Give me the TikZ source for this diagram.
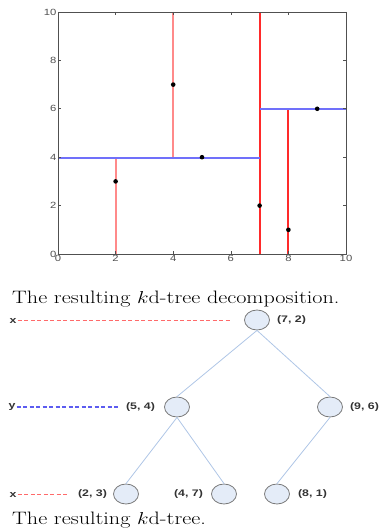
\documentclass[tikz,border=0pt]{standalone}
\usepackage{graphicx}
\usepackage{fontspec}
\newfontfamily\plotfont{Liberation Sans}
\usetikzlibrary{positioning,shapes.geometric}
\definecolor{axisgray}{HTML}{505050}
\definecolor{splitred}{HTML}{FF2A2A}
\definecolor{splitpink}{HTML}{FF8A8A}
\definecolor{splitblue}{HTML}{7070FA}
\definecolor{dashblue}{HTML}{5C5CF0}
\definecolor{edgeblue}{HTML}{AFC6E6}
\definecolor{nodefill}{HTML}{E4ECF8}
\definecolor{nodeline}{HTML}{7A7A7A}
\newcommand{\stretchtxt}[2][1.3]{\scalebox{#1}[1]{#2}}

\begin{document}
\begin{tikzpicture}[x=1pt, y=-1pt,
  tick/.style={font=\plotfont\fontsize{9}{10}\selectfont, text=axisgray, inner sep=1.5pt},
  caption/.style={font=\fontsize{18}{20}\selectfont, anchor=base west, inner sep=0pt},
  knode/.style={ellipse, draw=nodeline, fill=nodefill, line width=0.8pt,
                minimum width=25pt, minimum height=20pt, inner sep=0pt},
  klabel/.style={font=\plotfont\bfseries\fontsize{9.5}{10}\selectfont, text=black!80, inner sep=1pt},
  axlabel/.style={font=\plotfont\bfseries\fontsize{9.5}{10}\selectfont, text=black!80, inner sep=1pt},
  tedge/.style={draw=edgeblue, line width=0.8pt},
  xsplit/.style={draw=splitred, line width=1.6pt},
  xsplitlight/.style={draw=splitpink, line width=2pt},
  ysplit/.style={draw=splitblue, line width=1.6pt},
  xdash/.style={draw=splitred!70, line width=1pt, dash pattern=on 4pt off 2.5pt},
  ydash/.style={draw=dashblue, line width=1.6pt, dash pattern=on 4pt off 2.5pt}
]
\useasboundingbox (0,0) rectangle (383,529);

% splitting lines, snapped to whole pixels
\draw[xsplitlight] (116,254) -- (116,158);
\draw[xsplitlight] (173,158) -- (173,12);
\draw[xsplit] (260,254) -- (260,12);
\draw[xsplit] (288,254) -- (288,109);
\draw[ysplit] (58,158) -- (260,158);
\draw[ysplit] (260,109) -- (346,109);

% axes and points
\begin{scope}[xshift=58pt, yshift=-254pt, x=28.8pt, y=24.2pt]
  \draw[axisgray, line width=0.9pt] (0,0) rectangle (10,10);
  \foreach \v in {0,2,...,10} {
    \draw[axisgray, line width=0.6pt] (\v,0) -- ++(0,0.12) (\v,10) -- ++(0,-0.12)
      (0,\v) -- ++(0.1,0) (10,\v) -- ++(-0.1,0);
    \node[tick, below] at (\v,0) {\stretchtxt[1.25]{\v}};
    \node[tick, left] at (0,\v) {\stretchtxt[1.25]{\v}};
  }
  \foreach \px/\py in {2/3,4/7,5/4,7/2,8/1,9/6}
    \fill (\px,\py) circle (2.3pt);
\end{scope}

\node[caption] (cap1) at (12,303) {\stretchtxt[1.23]{The resulting $k$d-tree decomposition.}};

% the tree
\node[knode] (n72) at (257,320) {};
\node[knode] (n54) at (177,407) {};
\node[knode] (n96) at (330,407) {};
\node[knode] (n23) at (126,494) {};
\node[knode] (n47) at (224,494) {};
\node[knode] (n81) at (277,494) {};

\node[klabel, right=6pt of n72] (l72) {\stretchtxt{(7, 2)}};
\node[klabel, left=8pt of n54] (l54) {\stretchtxt{(5, 4)}};
\node[klabel, right=6pt of n96] (l96) {\stretchtxt{(9, 6)}};
\node[klabel, left=5pt of n23] (l23) {\stretchtxt{(2, 3)}};
\node[klabel, left=7pt of n47] (l47) {\stretchtxt{(4, 7)}};
\node[klabel, right=7pt of n81] (l81) {\stretchtxt{(8, 1)}};

\draw[tedge] (n72.south) -- (n54.north);
\draw[tedge] (n72.south) -- (n96.north);
\draw[tedge] (n54.south) -- (n23.north);
\draw[tedge] (n54.south) -- (n47.north);
\draw[tedge] (n96.south) -- (n81.north);

% splitting axis per level
\node[axlabel] (ax1) at (13,320.5) {\stretchtxt{x}};
\node[axlabel] (ay2) at (12,407) {\stretchtxt{y}};
\node[axlabel] (ax3) at (13,494.5) {\stretchtxt{x}};
\coordinate (d1) at (232,320.5);
\coordinate (d2) at (118,407);
\coordinate (d3) at (68,494.5);
\draw[xdash] (ax1.east) -- (d1);
\draw[ydash] (ay2.east) -- (d2);
\draw[xdash] (ax3.east) -- (d3);

\node[caption] (cap2) at (12,524) {\stretchtxt[1.23]{The resulting $k$d-tree.}};
\end{tikzpicture}
\end{document}
